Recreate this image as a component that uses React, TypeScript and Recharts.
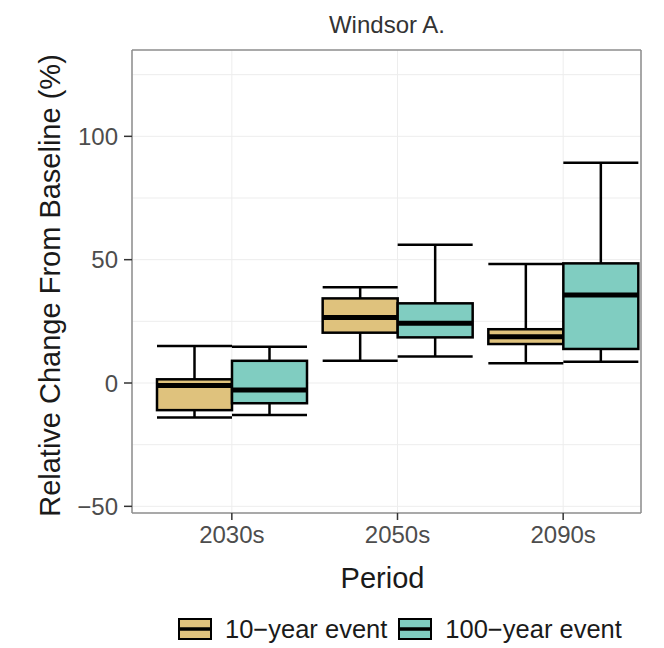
import React from 'react';
import {
  ComposedChart, Bar, XAxis, YAxis, CartesianGrid
} from 'recharts';

// periods on the x axis
const periods = ['2030s', '2050s', '2090s'];

// 10-year event: whisker ends, quartiles, median (% change)
const tenMin = [-14, 9, 8];
const tenQ1 = [-11, 20.4, 15.8];
const tenMed = [-1, 26.6, 18.8];
const tenQ3 = [1.5, 34.3, 21.8];
const tenMax = [15, 38.8, 48.2];

// 100-year event
const hundMin = [-13, 10.7, 8.6];
const hundQ1 = [-8.2, 18.5, 13.8];
const hundMed = [-2.8, 24.2, 35.7];
const hundQ3 = [9, 32.3, 48.5];
const hundMax = [14.7, 56, 89.3];

const yTicks = [-50, 0, 50, 100];
const yGrid = [-50, -25, 0, 25, 50, 75, 100, 125];

const series = [
  { key: 'ten', name: '10\u2212year event', color: '#DFC27D' },
  { key: 'hund', name: '100\u2212year event', color: '#80CDC1' },
];

const data = periods.map((period, i) => ({
  period,
  ten: [tenMin[i], tenMax[i]],
  tenStats: { min: tenMin[i], q1: tenQ1[i], med: tenMed[i], q3: tenQ3[i], max: tenMax[i] },
  hund: [hundMin[i], hundMax[i]],
  hundStats: { min: hundMin[i], q1: hundQ1[i], med: hundMed[i], q3: hundQ3[i], max: hundMax[i] },
}));

const FONT = '"Liberation Sans", Arial, Helvetica, sans-serif';

// the bar spans min..max; the rest of the box is placed inside that span
const BoxShape = (props: any) => {
  const { x, y, width, height, payload, fill, statKey } = props;
  const s = payload[statKey];
  const top = Math.min(y, y + height);
  const h = Math.abs(height);
  const py = (v: number) => top + ((s.max - v) / (s.max - s.min)) * h;
  const cx = x + width / 2;
  const sw = 2.5;
  return (
    <g>
      <line x1={cx} x2={cx} y1={py(s.max)} y2={py(s.q3)} stroke="#000" strokeWidth={sw} />
      <line x1={cx} x2={cx} y1={py(s.q1)} y2={py(s.min)} stroke="#000" strokeWidth={sw} />
      <line x1={x} x2={x + width} y1={py(s.max)} y2={py(s.max)} stroke="#000" strokeWidth={sw} />
      <line x1={x} x2={x + width} y1={py(s.min)} y2={py(s.min)} stroke="#000" strokeWidth={sw} />
      <rect x={x} y={py(s.q3)} width={width} height={py(s.q1) - py(s.q3)} fill={fill} stroke="#000" strokeWidth={sw} />
      <line x1={x} x2={x + width} y1={py(s.med)} y2={py(s.med)} stroke="#000" strokeWidth={5} />
    </g>
  );
};

const YTitle = (props: any) => {
  const { x, y, height } = props.viewBox;
  const cx = x + 50;
  const cy = y + height / 2 + 4;
  return (
    <text x={cx} y={cy} transform={`rotate(-90, ${cx}, ${cy})`} textAnchor="middle"
      dominantBaseline="central" fontSize={29} fill="#1a1a1a" fontFamily={FONT}>
      Relative Change From Baseline (%)
    </text>
  );
};

const XTitle = (props: any) => {
  const { x, y, width } = props.viewBox;
  return (
    <text x={x + width / 2 - 4} y={y + 65} textAnchor="middle" dominantBaseline="central"
      fontSize={29} fill="#1a1a1a" fontFamily={FONT}>
      Period
    </text>
  );
};

const LegendKey = ({ color }: { color: string }) => (
  <svg width={34} height={22} style={{ display: 'block' }}>
    <rect x={1} y={1} width={32} height={20} fill={color} stroke="#000" strokeWidth={2} />
    <line x1={1} x2={33} y1={11} y2={11} stroke="#000" strokeWidth={3.5} />
  </svg>
);

const tickStyle = { fontSize: 24, fill: '#4d4d4d', fontFamily: FONT };
const borderColor = '#8c8c8c';

export default function App() {
  return (
    <div style={{ position: 'absolute', left: 0, top: 0, width: 664, height: 648, background: '#fff' }}>
      <ComposedChart width={664} height={648} data={data} barGap={0}
        margin={{ top: 49, right: 22, bottom: 0, left: 0 }}>
        <CartesianGrid stroke="#ededed" strokeWidth={1} horizontalValues={yGrid} />
        <XAxis dataKey="period" type="category" height={135} padding={{ left: 17, right: -5 }}
          tick={tickStyle} tickSize={7} tickMargin={6}
          tickLine={{ stroke: '#333', strokeWidth: 1.5 }}
          axisLine={{ stroke: borderColor, strokeWidth: 1.5 }}
          label={XTitle} />
        <XAxis xAxisId="top" dataKey="period" orientation="top" height={1} tick={false}
          tickLine={false} axisLine={{ stroke: borderColor, strokeWidth: 1.5 }} />
        <YAxis type="number" domain={[-52.7, 135]} ticks={yTicks} allowDataOverflow width={132}
          tick={tickStyle} tickSize={8} tickMargin={6}
          tickFormatter={(v: number) => (v < 0 ? `\u2212${Math.abs(v)}` : `${v}`)}
          tickLine={{ stroke: '#333', strokeWidth: 1.5 }}
          axisLine={{ stroke: borderColor, strokeWidth: 1.5 }}
          label={YTitle} />
        <YAxis yAxisId="right" orientation="right" type="number" domain={[-52.7, 135]} width={1}
          tick={false} tickLine={false} axisLine={{ stroke: borderColor, strokeWidth: 1.5 }} />
        {series.map((s) => (
          <Bar key={s.key} dataKey={s.key} name={s.name} fill={s.color} barSize={75}
            isAnimationActive={false}
            shape={(p: any) => <BoxShape {...p} statKey={`${s.key}Stats`} />} />
        ))}
      </ComposedChart>
      <div style={{ position: 'absolute', left: 132, width: 510, top: 13, textAlign: 'center',
        fontFamily: FONT, fontSize: 24, lineHeight: '24px', color: '#333' }}>
        Windsor A.
      </div>
      <div style={{ position: 'absolute', left: 178, top: 618, display: 'flex', alignItems: 'center',
        fontFamily: FONT, fontSize: 25.5, color: '#1a1a1a' }}>
        {series.map((s, i) => (
          <div key={s.key} style={{ display: 'flex', alignItems: 'center', marginLeft: i === 0 ? 0 : 11 }}>
            <LegendKey color={s.color} />
            <span style={{ marginLeft: 13, lineHeight: '22px' }}>{s.name}</span>
          </div>
        ))}
      </div>
    </div>
  );
}
